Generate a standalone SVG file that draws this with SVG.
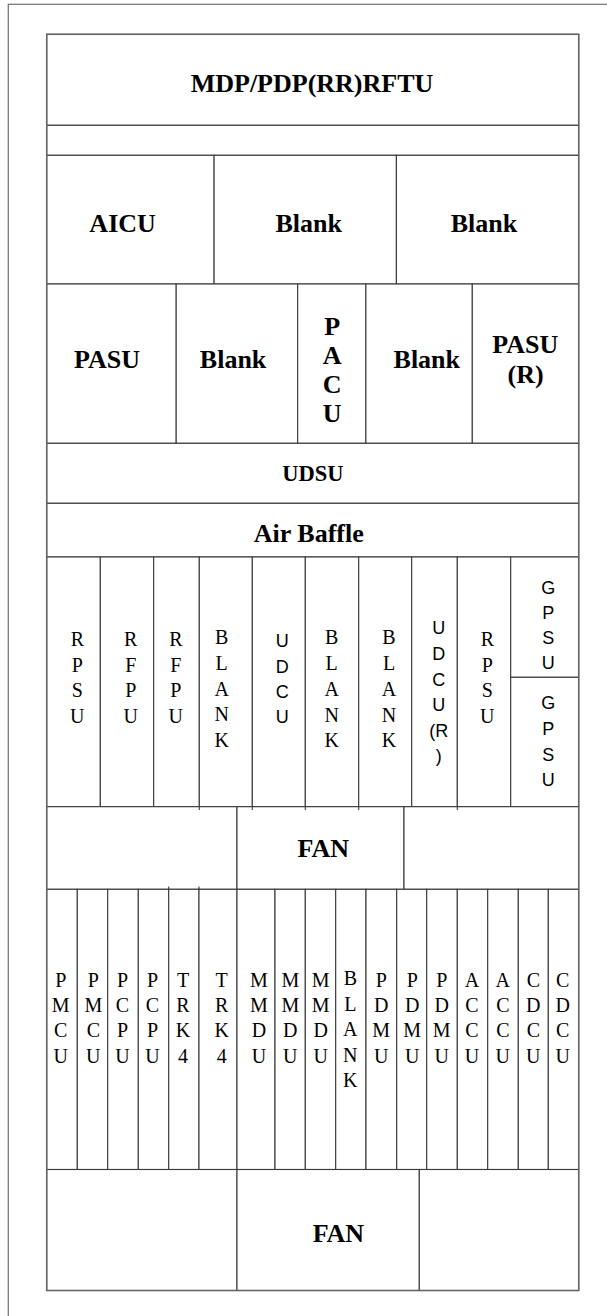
<svg xmlns="http://www.w3.org/2000/svg" width="607" height="1316" viewBox="0 0 607 1316">
<style>
.bg{fill:#ffffff}
.frame{fill:none;stroke:#7a7a7a;stroke-width:1.3}
.cell{fill:#ffffff;stroke:#3a3a3a;stroke-width:1.1}
.box{fill:none;stroke:#666666;stroke-width:1.5}
.tick{stroke:#3a3a3a;stroke-width:1.1}
.b{font-family:"Liberation Serif","Times New Roman",serif;font-weight:bold;font-size:26px;fill:#000;text-anchor:middle}
.s{font-family:"Liberation Serif","Times New Roman",serif;font-size:20px;fill:#000;text-anchor:middle}
.a{font-family:"Liberation Sans",Arial,sans-serif;font-size:18px;fill:#000;text-anchor:middle}
</style>
<rect class="bg" x="0" y="0" width="607" height="1316"/>
<rect class="frame" x="8.3" y="4.3" width="700" height="1400"/>

<g id="mdp"><rect class="cell" x="46.7" y="34.3" width="532" height="91"/><text class="b" x="312" y="91.7">MDP/PDP(RR)RFTU</text></g>
<g id="empty-slot"><rect class="cell" x="46.7" y="125.3" width="532" height="30"/></g>

<g id="aicu"><rect class="cell" x="46.7" y="155.3" width="167.4" height="128.7"/><text class="b" x="122.6" y="231.7">AICU</text></g>
<g id="blank-a1"><rect class="cell" x="214.1" y="155.3" width="182.3" height="128.7"/><text class="b" x="308.7" y="231.7">Blank</text></g>
<g id="blank-a2"><rect class="cell" x="396.4" y="155.3" width="182.3" height="128.7"/><text class="b" x="484" y="231.7">Blank</text></g>

<g id="pasu"><rect class="cell" x="46.7" y="284" width="129.5" height="159.3"/><text class="b" x="107" y="367.7">PASU</text></g>
<g id="blank-p1"><rect class="cell" x="176.2" y="284" width="121.5" height="159.3"/><text class="b" x="233.1" y="367.7">Blank</text></g>
<g id="pacu"><rect class="cell" x="297.7" y="284" width="68.2" height="159.3"/><text class="b"><tspan x="332.2" y="335">P</tspan><tspan x="332.2" y="364.2">A</tspan><tspan x="332.2" y="393.4">C</tspan><tspan x="332.2" y="422">U</tspan></text></g>
<g id="blank-p2"><rect class="cell" x="365.9" y="284" width="106.4" height="159.3"/><text class="b" x="426.8" y="367.7">Blank</text></g>
<g id="pasu-r"><rect class="cell" x="472.3" y="284" width="106.4" height="159.3"/><text class="b"><tspan x="525.3" y="353.3">PASU</tspan><tspan x="525.6" y="382.7">(R)</tspan></text></g>

<g id="udsu"><rect class="cell" x="46.7" y="443.3" width="532" height="60"/><text class="b" x="313" y="480.7" style="font-size:22.5px">UDSU</text></g>
<g id="air-baffle"><rect class="cell" x="46.7" y="503.3" width="532" height="53.7"/><text class="b" x="308.8" y="541.7">Air Baffle</text></g>

<g id="rpsu-1"><rect class="cell" x="46.7" y="557" width="53.6" height="249.7"/><text class="s"><tspan x="77.3" y="646">R</tspan><tspan x="77.3" y="671.7">P</tspan><tspan x="77.3" y="697.3">S</tspan><tspan x="77.3" y="723.3">U</tspan></text></g>
<g id="rfpu-1"><rect class="cell" x="100.3" y="557" width="53.4" height="249.7"/><text class="s"><tspan x="130.7" y="646">R</tspan><tspan x="130.7" y="671.7">F</tspan><tspan x="130.7" y="697.3">P</tspan><tspan x="130.7" y="723.3">U</tspan></text></g>
<g id="rfpu-2"><rect class="cell" x="153.7" y="557" width="45.6" height="249.7"/><text class="s"><tspan x="175.8" y="646">R</tspan><tspan x="175.8" y="671.7">F</tspan><tspan x="175.8" y="697.3">P</tspan><tspan x="175.8" y="723.3">U</tspan></text></g>
<g id="blank-r1"><rect class="cell" x="199.3" y="557" width="53" height="249.7"/><text class="s"><tspan x="221.7" y="644.3">B</tspan><tspan x="221.7" y="670">L</tspan><tspan x="221.7" y="695.6">A</tspan><tspan x="221.7" y="721.2">N</tspan><tspan x="221.7" y="746.8">K</tspan></text></g>
<g id="udcu"><rect class="cell" x="252.3" y="557" width="53" height="249.7"/><text class="a"><tspan x="282.3" y="647">U</tspan><tspan x="282.3" y="672.5">D</tspan><tspan x="282.3" y="697.5">C</tspan><tspan x="282.3" y="723">U</tspan></text></g>
<g id="blank-r2"><rect class="cell" x="305.3" y="557" width="53.4" height="249.7"/><text class="s"><tspan x="331.7" y="643.5">B</tspan><tspan x="331.7" y="669.5">L</tspan><tspan x="331.7" y="695.5">A</tspan><tspan x="331.7" y="721.5">N</tspan><tspan x="331.7" y="747">K</tspan></text></g>
<g id="blank-r3"><rect class="cell" x="358.7" y="557" width="53" height="249.7"/><text class="s"><tspan x="389" y="643.5">B</tspan><tspan x="389" y="669.5">L</tspan><tspan x="389" y="695.5">A</tspan><tspan x="389" y="721.5">N</tspan><tspan x="389" y="747">K</tspan></text></g>
<g id="udcu-r"><rect class="cell" x="411.7" y="557" width="45.6" height="249.7"/><text class="a"><tspan x="438.7" y="634.3">U</tspan><tspan x="438.7" y="660">D</tspan><tspan x="438.7" y="685.6">C</tspan><tspan x="438.7" y="711.2">U</tspan><tspan x="438.7" y="736.8">(R</tspan><tspan x="438.7" y="762.4">)</tspan></text></g>
<g id="rpsu-2"><rect class="cell" x="457.3" y="557" width="53.4" height="249.7"/><text class="s"><tspan x="487.3" y="646">R</tspan><tspan x="487.3" y="671.7">P</tspan><tspan x="487.3" y="697.3">S</tspan><tspan x="487.3" y="723.3">U</tspan></text></g>
<g id="gpsu-1"><rect class="cell" x="510.7" y="557" width="68" height="120.3"/><text class="a"><tspan x="548.3" y="593.5">G</tspan><tspan x="548.3" y="618.8">P</tspan><tspan x="548.3" y="644">S</tspan><tspan x="548.3" y="669.3">U</tspan></text></g>
<g id="gpsu-2"><rect class="cell" x="510.7" y="677.3" width="68" height="129.4"/><text class="a"><tspan x="548.3" y="709.3">G</tspan><tspan x="548.3" y="735">P</tspan><tspan x="548.3" y="760.7">S</tspan><tspan x="548.3" y="786">U</tspan></text></g>

<g id="fan-row1-left"><rect class="cell" x="46.7" y="806.7" width="190.3" height="82.6"/></g>
<g id="fan-1"><rect class="cell" x="237" y="806.7" width="167" height="82.6"/><text class="b" x="323.3" y="856.7">FAN</text></g>
<g id="fan-row1-right"><rect class="cell" x="404" y="806.7" width="174.7" height="82.6"/></g>

<g id="pmcu-1"><rect class="cell" x="46.7" y="889.3" width="30.6" height="280.2"/><text class="s"><tspan x="60.7" y="986.7">P</tspan><tspan x="60.7" y="1012">M</tspan><tspan x="60.7" y="1037.3">C</tspan><tspan x="60.7" y="1062.7">U</tspan></text></g>
<g id="pmcu-2"><rect class="cell" x="77.3" y="889.3" width="30.4" height="280.2"/><text class="s"><tspan x="93.3" y="986.7">P</tspan><tspan x="93.3" y="1012">M</tspan><tspan x="93.3" y="1037.3">C</tspan><tspan x="93.3" y="1062.7">U</tspan></text></g>
<g id="pcpu-1"><rect class="cell" x="107.7" y="889.3" width="30.6" height="280.2"/><text class="s"><tspan x="122.5" y="986.7">P</tspan><tspan x="122.5" y="1012">C</tspan><tspan x="122.5" y="1037.3">P</tspan><tspan x="122.5" y="1062.7">U</tspan></text></g>
<g id="pcpu-2"><rect class="cell" x="138.3" y="889.3" width="30.4" height="280.2"/><text class="s"><tspan x="152.5" y="986.7">P</tspan><tspan x="152.5" y="1012">C</tspan><tspan x="152.5" y="1037.3">P</tspan><tspan x="152.5" y="1062.7">U</tspan></text></g>
<g id="trk4-1"><rect class="cell" x="168.7" y="889.3" width="30.3" height="280.2"/><text class="s"><tspan x="183" y="986.7">T</tspan><tspan x="183" y="1012">R</tspan><tspan x="183" y="1037.3">K</tspan><tspan x="183" y="1062.7">4</tspan></text></g>
<g id="trk4-2"><rect class="cell" x="199" y="889.3" width="38" height="280.2"/><text class="s"><tspan x="221.7" y="986.7">T</tspan><tspan x="221.7" y="1012">R</tspan><tspan x="221.7" y="1037.3">K</tspan><tspan x="221.7" y="1062.7">4</tspan></text></g>
<g id="mmdu-1"><rect class="cell" x="237" y="889.3" width="38" height="280.2"/><text class="s"><tspan x="259" y="986.7">M</tspan><tspan x="259" y="1012">M</tspan><tspan x="259" y="1037.3">D</tspan><tspan x="259" y="1062.7">U</tspan></text></g>
<g id="mmdu-2"><rect class="cell" x="275" y="889.3" width="30.3" height="280.2"/><text class="s"><tspan x="290.3" y="986.7">M</tspan><tspan x="290.3" y="1012">M</tspan><tspan x="290.3" y="1037.3">D</tspan><tspan x="290.3" y="1062.7">U</tspan></text></g>
<g id="mmdu-3"><rect class="cell" x="305.3" y="889.3" width="30.4" height="280.2"/><text class="s"><tspan x="320.7" y="986.7">M</tspan><tspan x="320.7" y="1012">M</tspan><tspan x="320.7" y="1037.3">D</tspan><tspan x="320.7" y="1062.7">U</tspan></text></g>
<g id="blank-b1"><rect class="cell" x="335.7" y="889.3" width="30.3" height="280.2"/><text class="s"><tspan x="350.3" y="985">B</tspan><tspan x="350.3" y="1010.7">L</tspan><tspan x="350.3" y="1036">A</tspan><tspan x="350.3" y="1061.7">N</tspan><tspan x="350.3" y="1086.7">K</tspan></text></g>
<g id="pdmu-1"><rect class="cell" x="366" y="889.3" width="30.7" height="280.2"/><text class="s"><tspan x="381.2" y="986.7">P</tspan><tspan x="381.2" y="1012">D</tspan><tspan x="381.2" y="1037.3">M</tspan><tspan x="381.2" y="1062.7">U</tspan></text></g>
<g id="pdmu-2"><rect class="cell" x="396.7" y="889.3" width="30" height="280.2"/><text class="s"><tspan x="412.2" y="986.7">P</tspan><tspan x="412.2" y="1012">D</tspan><tspan x="412.2" y="1037.3">M</tspan><tspan x="412.2" y="1062.7">U</tspan></text></g>
<g id="pdmu-3"><rect class="cell" x="426.7" y="889.3" width="30.6" height="280.2"/><text class="s"><tspan x="441.7" y="986.7">P</tspan><tspan x="441.7" y="1012">D</tspan><tspan x="441.7" y="1037.3">M</tspan><tspan x="441.7" y="1062.7">U</tspan></text></g>
<g id="accu-1"><rect class="cell" x="457.3" y="889.3" width="30.4" height="280.2"/><text class="s"><tspan x="472" y="986.7">A</tspan><tspan x="472" y="1012">C</tspan><tspan x="472" y="1037.3">C</tspan><tspan x="472" y="1062.7">U</tspan></text></g>
<g id="accu-2"><rect class="cell" x="487.7" y="889.3" width="30.6" height="280.2"/><text class="s"><tspan x="502.8" y="986.7">A</tspan><tspan x="502.8" y="1012">C</tspan><tspan x="502.8" y="1037.3">C</tspan><tspan x="502.8" y="1062.7">U</tspan></text></g>
<g id="cdcu-1"><rect class="cell" x="518.3" y="889.3" width="30" height="280.2"/><text class="s"><tspan x="533.3" y="986.7">C</tspan><tspan x="533.3" y="1012">D</tspan><tspan x="533.3" y="1037.3">C</tspan><tspan x="533.3" y="1062.7">U</tspan></text></g>
<g id="cdcu-2"><rect class="cell" x="548.3" y="889.3" width="30.4" height="280.2"/><text class="s"><tspan x="562.7" y="986.7">C</tspan><tspan x="562.7" y="1012">D</tspan><tspan x="562.7" y="1037.3">C</tspan><tspan x="562.7" y="1062.7">U</tspan></text></g>

<g id="fan-row2-left"><rect class="cell" x="46.7" y="1169.5" width="190.3" height="121"/></g>
<g id="fan-2"><rect class="cell" x="237" y="1169.5" width="182.3" height="121"/><text class="b" x="338.4" y="1241.7">FAN</text></g>
<g id="fan-row2-right"><rect class="cell" x="419.3" y="1169.5" width="159.4" height="121"/></g>

<g id="connectors">
<line class="tick" x1="199.3" y1="806.7" x2="199.3" y2="810"/>
<line class="tick" x1="252.3" y1="806.7" x2="252.3" y2="810"/>
<line class="tick" x1="305.3" y1="806.7" x2="305.3" y2="810"/>
<line class="tick" x1="358.7" y1="806.7" x2="358.7" y2="810"/>
<line class="tick" x1="457.3" y1="806.7" x2="457.3" y2="810"/>
<line class="tick" x1="168.7" y1="886.5" x2="168.7" y2="889.3"/>
<line class="tick" x1="199" y1="886.5" x2="199" y2="889.3"/>
</g>
<rect class="box" x="46.7" y="34.3" width="532" height="1256.2"/>
</svg>
